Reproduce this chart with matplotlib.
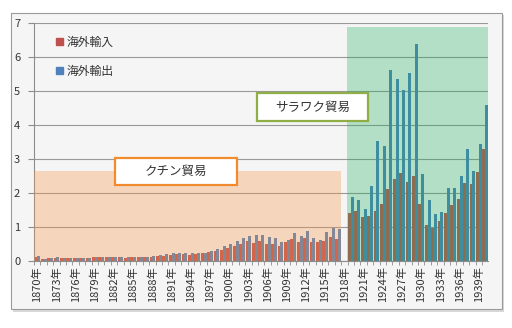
import numpy as np
import matplotlib
matplotlib.use("Agg")
import matplotlib.pyplot as plt
from matplotlib.patches import Rectangle, Patch

plt.rcParams['font.family'] = ['Noto Sans CJK JP', 'DejaVu Sans']

years = list(range(1870, 1941))
year_labels = [f"{y}年" for y in years]

# 海外輸入 (red) / 海外輸出 (blue), 1918 has no data
imports = [0.12, 0.06, 0.07, 0.08, 0.09, 0.07, 0.08, 0.07, 0.09, 0.12,
           0.10, 0.10, 0.12, 0.10, 0.08, 0.10, 0.12, 0.12, 0.12, 0.15,
           0.15, 0.17, 0.20, 0.20, 0.18, 0.20, 0.24, 0.25, 0.28, 0.32,
           0.37, 0.42, 0.48, 0.59, 0.53, 0.58, 0.50, 0.50, 0.42, 0.54,
           0.65, 0.56, 0.68, 0.56, 0.56, 0.59, 0.69, 0.65, np.nan, 1.40,
           1.47, 1.29, 1.32, 1.47, 1.68, 2.11, 2.41, 2.57, 2.31, 2.50,
           1.66, 1.04, 0.96, 1.16, 1.40, 1.63, 1.82, 2.29, 2.25, 2.62,
           3.28]
exports = [0.15, 0.06, 0.07, 0.10, 0.07, 0.08, 0.09, 0.07, 0.09, 0.12,
           0.12, 0.12, 0.11, 0.12, 0.10, 0.10, 0.12, 0.12, 0.15, 0.18,
           0.20, 0.22, 0.24, 0.24, 0.22, 0.22, 0.24, 0.28, 0.33, 0.42,
           0.50, 0.59, 0.68, 0.74, 0.76, 0.76, 0.69, 0.66, 0.56, 0.62,
           0.81, 0.72, 0.86, 0.67, 0.62, 0.84, 0.96, 0.92, np.nan, 1.88,
           1.79, 1.53, 2.19, 3.51, 3.38, 5.62, 5.35, 5.01, 5.52, 6.38,
           2.55, 1.78, 1.37, 1.43, 2.14, 2.14, 2.48, 3.29, 2.63, 3.44,
           4.59]

fig = plt.figure(figsize=(5.12, 3.28), dpi=100)
fig.patch.set_facecolor('white')

# chart frame with a soft shadow
fig.patches.append(Rectangle((0.026, 0.048), 0.958, 0.905, transform=fig.transFigure,
                             facecolor='#d8d8d8', edgecolor='none', zorder=-2))
fig.patches.append(Rectangle((0.0215, 0.058), 0.958, 0.902, transform=fig.transFigure,
                             facecolor='#f5f5f5', edgecolor='#9a9a9a', lw=0.8, zorder=-1))

ax = fig.add_axes([0.0666, 0.2052, 0.8875, 0.7256])
ax.set_facecolor('none')

x = np.arange(len(years))
w = 0.44
ax.bar(x - w / 2, imports, w, color='#C0504D', label='海外輸入', zorder=2)
ax.bar(x + w / 2, exports, w, color='#4F81BD', label='海外輸出', zorder=2)

# shaded periods, drawn over the bars
ax.add_patch(Rectangle((-0.5, 0), 47.95, 2.64, facecolor='#F79646', alpha=0.32,
                       edgecolor='none', zorder=3))
ax.add_patch(Rectangle((48.4, 0), 22.1, 6.87, facecolor='#1AAE5A', alpha=0.3,
                       edgecolor='none', zorder=3))

# labelled boxes
ax.add_patch(Rectangle((12.1, 2.23), 19.1, 0.78, facecolor='white', edgecolor='#F28A2E',
                       lw=1.6, zorder=5))
ax.text(21.65, 2.62, 'クチン貿易', ha='center', va='center', fontsize=9, color='#333333', zorder=6)
ax.add_patch(Rectangle((34.3, 4.11), 17.4, 0.81, facecolor='white', edgecolor='#8FAE45',
                       lw=1.6, zorder=5))
ax.text(43.0, 4.51, 'サラワク貿易', ha='center', va='center', fontsize=9, color='#333333', zorder=6)

ax.set_xlim(-0.5, len(years) - 0.5)
ax.set_ylim(0, 7)
ax.set_yticks(range(0, 8))
ax.yaxis.grid(True, color='#999999', lw=0.8, zorder=1)
ax.set_axisbelow(True)

ax.set_xticks(x[::3])
ax.set_xticklabels(year_labels[::3], rotation=90, fontsize=8, color='#333333')
ax.set_xticks(x - 0.5, minor=True)
ax.tick_params(axis='x', which='major', length=0, pad=4)
ax.tick_params(axis='x', which='minor', length=3, color='#8c8c8c')
ax.tick_params(axis='y', length=4, color='#8c8c8c', labelsize=8, labelcolor='#333333', pad=6)

for s in ['top', 'right']:
    ax.spines[s].set_visible(False)
for s in ['left', 'bottom']:
    ax.spines[s].set_color('#8c8c8c')

handles = [Patch(color='#C0504D'), Patch(color='#4F81BD')]
ax.legend(handles, ['海外輸入', '海外輸出'], loc='upper left', bbox_to_anchor=(0.025, 0.99),
          frameon=False, fontsize=8.5, labelspacing=1.35, handlelength=0.55, handleheight=0.55,
          handletextpad=0.3, labelcolor='#333333')

fig.savefig('out.png', dpi=100)
